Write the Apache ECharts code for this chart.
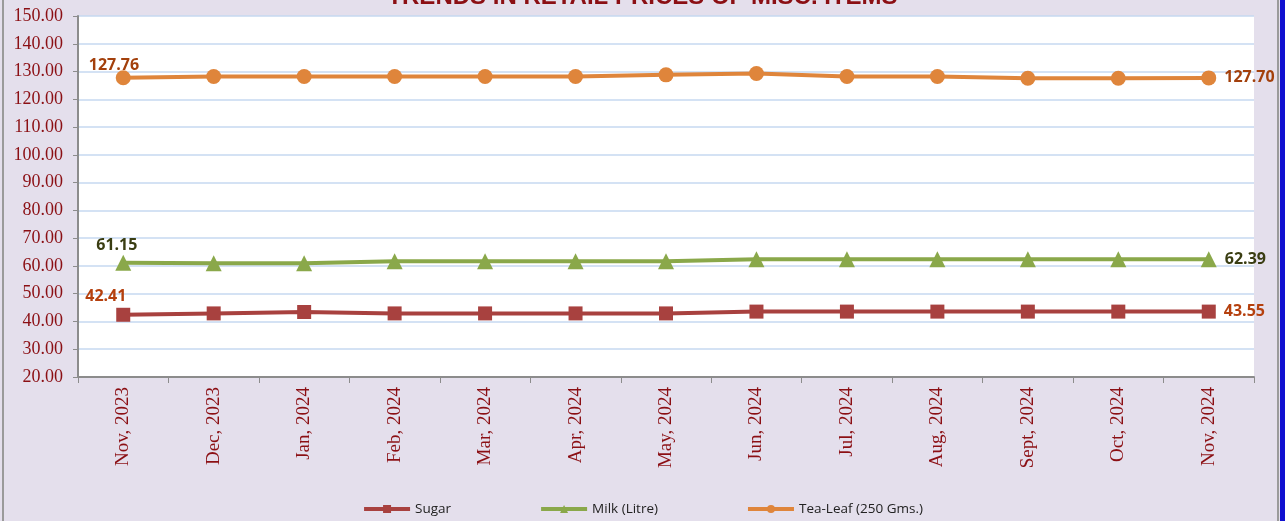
<!DOCTYPE html>
<html>
<head>
<meta charset="utf-8">
<script src="https://cdn.jsdelivr.net/npm/echarts@6/dist/echarts.min.js"></script>
<style>
  html, body { margin: 0; padding: 0; background: #e4dfec; }
  #chart { width: 1285px; height: 521px; }
</style>
</head>
<body>
<div id="chart"></div>
<script>
// months on x axis
var months = ['Nov, 2023', 'Dec, 2023', 'Jan, 2024', 'Feb, 2024', 'Mar, 2024', 'Apr, 2024', 'May, 2024',
  'Jun, 2024', 'Jul, 2024', 'Aug, 2024', 'Sept, 2024', 'Oct, 2024', 'Nov, 2024'];
// prices (end points labelled)
var sugar = [42.41, 42.9, 43.4, 42.9, 42.9, 42.9, 42.9, 43.55, 43.55, 43.55, 43.55, 43.55, 43.55];
var milk = [61.15, 61.0, 61.0, 61.7, 61.7, 61.7, 61.7, 62.39, 62.39, 62.39, 62.39, 62.39, 62.39];
var teaLeaf = [127.76, 128.2, 128.2, 128.2, 128.2, 128.2, 128.8, 129.3, 128.2, 128.2, 127.6, 127.6, 127.70];
var seriesNames = ['Sugar', 'Milk (Litre)', 'Tea-Leaf (250 Gms.)'];

var chart = echarts.init(document.getElementById('chart'));

// first point label sits above-left, last one to the right
function makeSeries(name, data, color, symbol, size, labelColor, firstPos) {
  return {
    name: name,
    type: 'line',
    data: data.map(function (v, i) {
      var item = { value: v };
      if (i === 0) item.label = { show: true, position: firstPos };
      if (i === data.length - 1) item.label = { show: true, position: 'right', distance: 8 };
      return item;
    }),
    symbol: symbol,
    symbolSize: size,
    showAllSymbol: true,
    lineStyle: { color: color, width: 4 },
    itemStyle: { color: color },
    label: {
      show: false,
      formatter: function (p) { return p.value.toFixed(2); },
      color: labelColor,
      fontFamily: 'Open Sans',
      fontWeight: 'bold',
      fontSize: 16
    },
    emphasis: { disabled: true },
    animation: false
  };
}

var option = {
  backgroundColor: '#e4dfec',
  title: {
    text: 'TRENDS IN RETAIL PRICES OF MISC. ITEMS',
    left: 'center',
    top: -20,
    textStyle: { color: '#8b0f14', fontFamily: 'Liberation Sans', fontWeight: 'bold', fontSize: 24 }
  },
  grid: {
    left: 78, right: 31, top: 16, bottom: 144,
    show: true, backgroundColor: '#ffffff', borderWidth: 0
  },
  legend: {
    bottom: 0,
    left: 'center',
    itemGap: 88,
    itemWidth: 46,
    itemHeight: 10,
    lineStyle: { width: 4 },
    textStyle: { color: '#222', fontFamily: 'Open Sans', fontSize: 13.5 },
    data: seriesNames
  },
  xAxis: {
    type: 'category',
    data: months,
    boundaryGap: true,
    axisLine: { lineStyle: { color: '#8c8c8c', width: 2 } },
    axisTick: { show: true, length: 6, lineStyle: { color: '#8c8c8c' } },
    axisLabel: {
      rotate: 90,
      margin: 10,
      color: '#8b0f14',
      fontFamily: 'Liberation Serif',
      fontSize: 19,
      interval: 0
    }
  },
  yAxis: {
    type: 'value',
    min: 20,
    max: 150,
    interval: 10,
    axisLine: { show: true, lineStyle: { color: '#8c8c8c', width: 2 } },
    axisTick: { show: true, length: 5, lineStyle: { color: '#8c8c8c' } },
    axisLabel: {
      margin: 15,
      color: '#8b0f14',
      fontFamily: 'Liberation Serif',
      fontSize: 18,
      formatter: function (v) { return v.toFixed(2); }
    },
    splitLine: { lineStyle: { color: '#c6d9f0', width: 1.5 } }
  },
  graphic: [
    { type: 'rect', shape: { x: 2, y: 0, width: 2, height: 521 }, style: { fill: '#9a9a9a' } },
    { type: 'rect', shape: { x: 1277, y: 0, width: 2, height: 521 }, style: { fill: '#9a9a9a' } },
    { type: 'rect', shape: { x: 1280, y: 0, width: 5, height: 521 }, style: { fill: '#1010d0' } }
  ],
  series: [
    makeSeries(seriesNames[0], sugar, '#a8413f', 'rect', 14, '#b5400e', [-31, -19]),
    makeSeries(seriesNames[1], milk, '#8aa84a', 'triangle', 16, '#3a3d12', [-19, -17]),
    makeSeries(seriesNames[2], teaLeaf, '#df853b', 'circle', 15, '#a3400c', [-27, -13])
  ]
};

chart.setOption(option);
</script>
</body>
</html>
